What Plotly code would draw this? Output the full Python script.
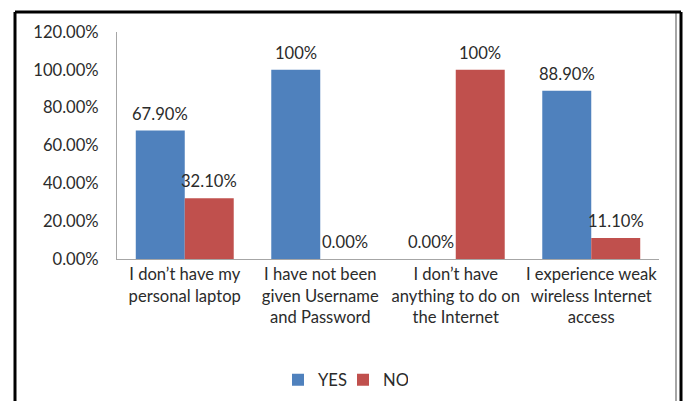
import plotly.graph_objects as go

categories = [
    "I don’t have my<br>personal laptop",
    "I have not been<br>given Username<br>and Password",
    "I don’t have<br>anything to do on<br>the Internet",
    "I experience weak<br>wireless Internet<br>access",
]
yes_values = [67.9, 100, 0, 88.9]
no_values = [32.1, 0, 100, 11.1]
yes_labels = ["67.90%", "100%", "0.00%", "88.90%"]
no_labels = ["32.10%", "0.00%", "100%", "11.10%"]
y_ticks = [0, 20, 40, 60, 80, 100, 120]
y_tick_labels = ["0.00%", "20.00%", "40.00%", "60.00%", "80.00%", "100.00%", "120.00%"]

FONT = "Lato"
FS = 16.6
TXT = "#2b2b2b"
BLUE = "#4F81BD"
RED = "#C0504D"

fig = go.Figure()
fig.add_trace(go.Bar(name="YES", x=categories, y=yes_values, marker_color=BLUE,
                     marker_line_width=0))
fig.add_trace(go.Bar(name="NO", x=categories, y=no_values, marker_color=RED,
                     marker_line_width=0))

annotations = []
for i, cat in enumerate(categories):
    for vals, labs, shift in ((yes_values, yes_labels, -24.5), (no_values, no_labels, 24.5)):
        annotations.append(dict(x=cat, y=vals[i], text=labs[i], showarrow=False,
                                xref="x", yref="y", xshift=shift, yshift=17,
                                font=dict(family=FONT, size=FS, color=TXT)))

W, H = 684, 401
L, R, T, B = 117, 25, 32, 142
pw, ph = W - L - R, H - T - B

def px_x(x):
    return (x - L) / pw

def px_y(y):
    return (H - B - y) / ph

bx0, bx1, by0, by1 = px_x(15), px_x(681), px_y(405), px_y(12)
border = dict(color="black", width=3)
shapes = [
    dict(type="line", xref="paper", yref="paper", x0=px_x(676), x1=px_x(676), y0=by0, y1=px_y(13),
         line=dict(color="#A6A6A6", width=2), layer="above"),
    dict(type="line", xref="paper", yref="paper", x0=bx0, x1=bx1, y0=by1, y1=by1, line=border, layer="above"),
    dict(type="line", xref="paper", yref="paper", x0=bx0, x1=bx0, y0=by0, y1=by1, line=border, layer="above"),
    dict(type="line", xref="paper", yref="paper", x0=bx1, x1=bx1, y0=by0, y1=by1, line=border, layer="above"),
]

fig.update_layout(
    width=W, height=H, autosize=False,
    margin=dict(l=L, r=R, t=T, b=B, pad=0, autoexpand=False),
    paper_bgcolor="white", plot_bgcolor="white",
    barmode="group", bargap=0.277, bargroupgap=0,
    font=dict(family=FONT, size=FS, color=TXT),
    annotations=annotations,
    showlegend=True,
    legend=dict(orientation="h", xref="paper", yref="paper",
                x=px_x(343), xanchor="center", y=px_y(380), yanchor="middle",
                font=dict(family=FONT, size=FS, color=TXT),
                itemsizing="constant", itemwidth=30, tracegroupgap=0,
                entrywidth=20, entrywidthmode="pixels"),
    xaxis=dict(showline=True, linecolor="#A6A6A6", linewidth=1, ticks="",
               automargin=False,
               tickfont=dict(family=FONT, size=FS, color=TXT), showgrid=False),
    yaxis=dict(range=[0, 120], tickvals=y_ticks, ticktext=y_tick_labels,
               showline=True, linecolor="#A6A6A6", linewidth=1, ticks="",
               automargin=False,
               showgrid=False, zeroline=False, ticklabelstandoff=14,
               tickfont=dict(family=FONT, size=FS, color=TXT)),
    shapes=shapes,
)

fig.write_html("out.html", config={"displayModeBar": False},
               post_script="document.body.style.margin='0';document.body.style.overflow='hidden';")
